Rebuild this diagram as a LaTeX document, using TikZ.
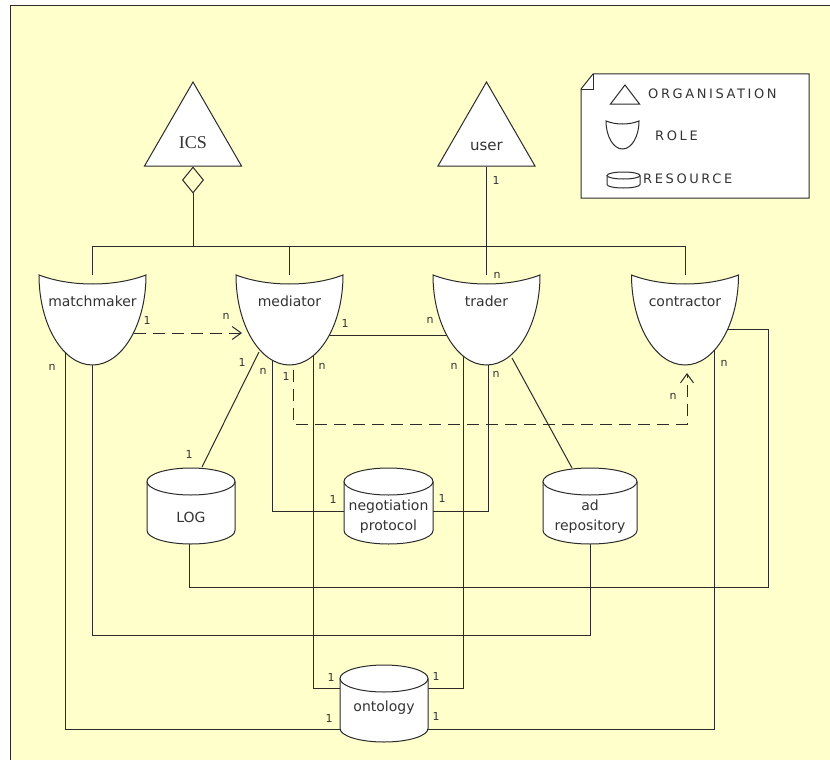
\documentclass[tikz,border=0pt]{standalone}
\usepackage{fontspec}
\setmainfont{DejaVu Sans}
\newfontfamily\icsfont{Liberation Serif}
\newfontfamily\legendfont[LetterSpace=20]{DejaVu Sans}
\usetikzlibrary{shapes.geometric,arrows.meta,calc}
\pgfdeclarelayer{paper}
\pgfdeclarelayer{wires}
\pgfsetlayers{paper,wires,main}
\definecolor{paperyellow}{HTML}{FFFFCC}
\definecolor{ink}{HTML}{2B2B2B}
\definecolor{labelink}{HTML}{333333}

% bowl-shaped role outline: #1 centre x, #2 y of the two top corners
\newcommand\rolebody[2]{%
  \draw[outline] (#1-53.5,#2) .. controls (#1-22,#2+12) and (#1+22,#2+12) .. (#1+53.5,#2)
    arc[start angle=0,end angle=-180,x radius=53.5pt,y radius=90pt] -- cycle;}
% resource cylinder: #1 centre x, #2 top y, #3 half width, #4 height
\newcommand\cylbody[4]{%
  \draw[outline] (#1-#3,#2+13.5) -- (#1-#3,#2+#4-13.5)
    arc[start angle=180,end angle=360,x radius=#3pt,y radius=13.5pt]
    -- (#1+#3,#2+13.5);
  \draw[outline] (#1,#2+13.5) ellipse[x radius=#3pt,y radius=13.5pt];}

\begin{document}
\begin{tikzpicture}[x=1pt,y=-1pt,
  outline/.style={draw=ink,line width=1pt,fill=white},
  wire/.style={draw=ink,line width=1pt},
  dashwire/.style={wire,dash pattern=on 12pt off 7pt},
  barb/.style={-{Straight Barb[length=9pt,width=13pt]}},
  orgnode/.style={regular polygon,regular polygon sides=3,minimum size=112pt,
    inner sep=0pt,draw=ink,line width=1pt,fill=white,text=labelink},
  rolenode/.style={minimum width=107pt,minimum height=90pt,inner sep=0pt,
    font=\fontsize{14}{14}\selectfont,text=labelink},
  resnode/.style={inner sep=0pt,align=center,
    font=\fontsize{14}{20}\selectfont,text=labelink},
  mult/.style={inner sep=0pt,font=\fontsize{11}{11}\selectfont,text=labelink},
  legendtext/.style={anchor=west,inner sep=0pt,
    font={\legendfont\fontsize{13}{13}\selectfont},text=labelink}]
\useasboundingbox (0,0) rectangle (830,760);

% paper
\begin{pgfonlayer}{paper}
  \fill[white] (0,0) rectangle (830,760);
  \fill[paperyellow] (10,6) rectangle (830,760);
  \draw[wire] (10,760) -- (10,6) -- (830,6);
\end{pgfonlayer}

% organisations
\node[orgnode,font=\icsfont\fontsize{18}{18}\selectfont] (ICS) at (193,138)
  {\raisebox{-10pt}[0pt][0pt]{ICS}};
\node[orgnode,font=\fontsize{15}{15}\selectfont] (user) at (486.5,138)
  {\raisebox{-13pt}[0pt][0pt]{user}};

% roles
\rolebody{92.5}{275}
\node[rolenode] (mm) at (92.5,320) {\raisebox{14pt}[0pt][0pt]{matchmaker}};
\rolebody{289.5}{275}
\node[rolenode] (md) at (289.5,320) {\raisebox{14pt}[0pt][0pt]{mediator}};
\rolebody{486.5}{275}
\node[rolenode] (tr) at (486.5,320) {\raisebox{14pt}[0pt][0pt]{trader}};
\rolebody{685}{275}
\node[rolenode] (ct) at (685,320) {\raisebox{14pt}[0pt][0pt]{contractor}};

% resources
\cylbody{191}{468}{44}{76}
\node[resnode] (LOG) at (191,517) {LOG};
\cylbody{388.5}{468}{44.5}{76}
\node[resnode] (np) at (388.5,517) {negotiation\\protocol};
\cylbody{590}{468}{47}{76}
\node[resnode] (ad) at (590,517) {ad\\repository};
\cylbody{384}{665}{44}{77}
\node[resnode] (on) at (384,708) {ontology};

% legend note
\draw[outline] (593,74) -- (809,74) -- (809,198) -- (581,198) -- (581,89) -- cycle;
\draw[wire,line width=0.8pt] (581,89) -- (593,89) -- (593,74);
\draw[outline] (625,85) -- (639.5,104) -- (610.5,104) -- cycle;
\draw[outline] (606,121) .. controls (616,125) and (629,125) .. (639,121)
  arc[start angle=0,end angle=-180,x radius=16.5pt,y radius=28pt] -- cycle;
\draw[outline] (607,175.5) -- (607,184.5)
  arc[start angle=180,end angle=360,x radius=16.5pt,y radius=3.5pt] -- (640,175.5);
\draw[outline] (623.5,175.5) ellipse[x radius=16.5pt,y radius=3.5pt];
\node[legendtext] (lgorg) at (648,94) {ORGANISATION};
\node[legendtext] (lgrole) at (655,136) {ROLE};
\node[legendtext] (lgres) at (643,179) {RESOURCE};

% connectors
\coordinate (bus) at (0,246);
\begin{pgfonlayer}{wires}
  \draw[wire,{Diamond[open,length=27pt,width=22pt]}-] (ICS.south) -- (ICS.south |- bus);
  \draw[wire] (mm) -- (mm |- bus) -- (ct |- bus) -- (ct);
  \draw[wire] (md |- bus) -- (md);
  \draw[wire] (user.south) -- (tr);
  \draw[dashwire,barb] ($(mm)+(41,13)$) -- ($(md)+(-47.5,13)$);
  \draw[wire] ($(md)+(0,15)$) -- ($(tr)+(0,15)$);
  \draw[wire] ($(md)+(-30.5,32)$) -- ($(LOG)+(11,-50)$);
  \draw[wire] ($(md)+(-17.5,0)$) |- ($(np)+(0,-6)$);
  \draw[wire] ($(md)+(23.5,0)$) |- ($(on)+(0,-20)$);
  \draw[dashwire,barb] ($(md)+(3.5,50)$) |- ($(ct)+(2,104)$) -- ($(ct)+(2,53)$);
  \draw[wire] ($(tr)+(-23.5,0)$) |- ($(on)+(0,-20)$);
  \draw[wire] ($(tr)+(1.5,0)$) |- ($(np)+(0,-6)$);
  \draw[wire] ($(tr)+(25.5,38)$) -- ($(ad)+(-18,-49)$);
  \draw[wire] ($(LOG)+(-1.5,0)$) |- ($(ct)+(83,267)$) |- ($(ct)+(0,9)$);
  \draw[wire] (mm) |- ($(ad)+(0,118)$) -- (ad);
  \draw[wire] ($(mm)+(-27.5,0)$) |- ($(on)+(0,21)$);
  \draw[wire] ($(ct)+(29,0)$) |- ($(on)+(0,21)$);
\end{pgfonlayer}

% multiplicities
\node[mult] (m1)  at (496,180) {1};
\node[mult] (m2)  at (497,275) {n};
\node[mult] (m3)  at (147,320) {1};
\node[mult] (m4)  at (226,316) {n};
\node[mult] (m5)  at (345,323) {1};
\node[mult] (m6)  at (430,320) {n};
\node[mult] (m7)  at (242,362) {1};
\node[mult] (m8)  at (189,454) {1};
\node[mult] (m9)  at (263,371) {n};
\node[mult] (m10) at (333,499) {1};
\node[mult] (m11) at (322,366) {n};
\node[mult] (m12) at (331,677) {1};
\node[mult] (m13) at (286,376) {1};
\node[mult] (m14) at (673,396) {n};
\node[mult] (m15) at (454,366) {n};
\node[mult] (m16) at (436,676) {1};
\node[mult] (m17) at (496,374) {n};
\node[mult] (m18) at (442,498) {1};
\node[mult] (m19) at (52,367)  {n};
\node[mult] (m20) at (329,718) {1};
\node[mult] (m21) at (724,363) {n};
\node[mult] (m22) at (436,716) {1};
\end{tikzpicture}
\end{document}
